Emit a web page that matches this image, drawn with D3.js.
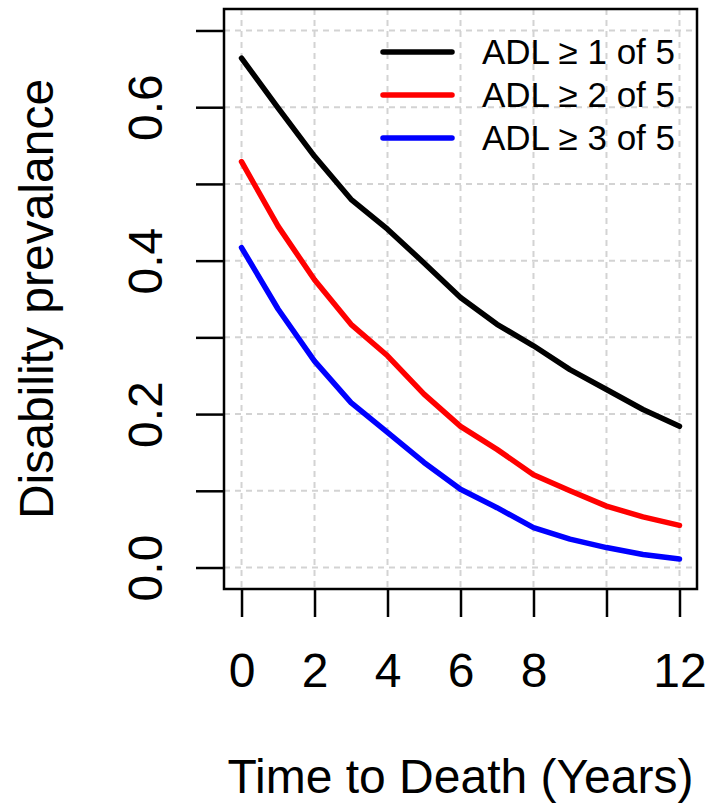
<!DOCTYPE html>
<html>
<head>
<meta charset="utf-8">
<script src="https://cdn.jsdelivr.net/npm/d3@7"></script>
<style>
  body { margin: 0; background: #fff; }
  text { font-family: "Liberation Sans", Arial, sans-serif; fill: #000; }
</style>
</head>
<body>
<div id="chart"></div>
<script>
// data
var years = [0, 1, 2, 3, 4, 5, 6, 7, 8, 9, 10, 11, 12];
var adl1 = [0.664, 0.599, 0.536, 0.480, 0.441, 0.397, 0.352, 0.317, 0.289, 0.258, 0.232, 0.206, 0.184];
var adl2 = [0.529, 0.445, 0.375, 0.317, 0.276, 0.226, 0.184, 0.154, 0.121, 0.100, 0.080, 0.066, 0.055];
var adl3 = [0.417, 0.337, 0.269, 0.215, 0.176, 0.137, 0.102, 0.078, 0.052, 0.037, 0.026, 0.017, 0.011];
var seriesNames = ["ADL \u2265 1 of 5", "ADL \u2265 2 of 5", "ADL \u2265 3 of 5"];
var seriesColors = ["#000000", "#ff0000", "#0000ff"];
var xTicks = [0, 2, 4, 6, 8, 10, 12];
var xTickLabels = ["0", "2", "4", "6", "8", "", "12"];
var yTicks = [0, 0.1, 0.2, 0.3, 0.4, 0.5, 0.6, 0.7];
var yTickLabels = ["0.0", "", "0.2", "", "0.4", "", "0.6", ""];

var svgWidth = 707;
var svgHeight = 805;

var margin = { top: 9, right: 10, bottom: 216, left: 224 };
var width = svgWidth - margin.left - margin.right;
var height = svgHeight - margin.top - margin.bottom;

var svg = d3.select("#chart")
  .append("svg")
  .attr("width", svgWidth)
  .attr("height", svgHeight);

var chartGroup = svg.append("g")
  .attr("transform", `translate(${margin.left}, ${margin.top})`);

// R style 4% padding on both axes
var xPad = 12 * 0.04;
var yPad = 0.7 * 0.04;
var x = d3.scaleLinear().domain([0 - xPad, 12 + xPad]).range([0, width]);
var y = d3.scaleLinear().domain([0 - yPad, 0.7 + yPad]).range([height, 0]);

// grid
chartGroup.append("g")
  .selectAll("line.vgrid")
  .data(xTicks)
  .enter()
  .append("line")
  .attr("x1", d => x(d)).attr("x2", d => x(d))
  .attr("y1", 0).attr("y2", height)
  .attr("stroke", "#d3d3d3").attr("stroke-width", 2)
  .attr("stroke-dasharray", "6,5");

chartGroup.append("g")
  .selectAll("line.hgrid")
  .data(yTicks)
  .enter()
  .append("line")
  .attr("x1", 0).attr("x2", width)
  .attr("y1", d => y(d)).attr("y2", d => y(d))
  .attr("stroke", "#d3d3d3").attr("stroke-width", 2)
  .attr("stroke-dasharray", "6,5");

// axes
var bottomAxis = d3.axisBottom(x)
  .tickValues(xTicks)
  .tickSize(28)
  .tickFormat((d, i) => xTickLabels[i]);

var leftAxis = d3.axisLeft(y)
  .tickValues(yTicks)
  .tickSize(28)
  .tickFormat((d, i) => yTickLabels[i]);

var xAxisG = chartGroup.append("g")
  .attr("transform", `translate(0, ${height})`)
  .call(bottomAxis);

xAxisG.select(".domain").remove();
xAxisG.selectAll(".tick line").attr("stroke", "#000").attr("stroke-width", 2.5);
xAxisG.selectAll(".tick text")
  .attr("y", 98)
  .attr("dy", 0)
  .style("font-size", "48px")
  .style("font-family", "Liberation Sans, Arial, sans-serif");

var yAxisG = chartGroup.append("g")
  .call(leftAxis);

yAxisG.select(".domain").remove();
yAxisG.selectAll(".tick line").attr("stroke", "#000").attr("stroke-width", 2.5);
yAxisG.selectAll(".tick text")
  .attr("transform", "rotate(-90)")
  .attr("x", 0)
  .attr("y", -62)
  .attr("dy", 0)
  .attr("text-anchor", "middle")
  .style("font-size", "48px")
  .style("font-family", "Liberation Sans, Arial, sans-serif");

// lines
var lineGen = d3.line()
  .x((d, i) => x(years[i]))
  .y(d => y(d));

var allSeries = [adl1, adl2, adl3];

chartGroup.selectAll("path.series")
  .data(allSeries)
  .enter()
  .append("path")
  .attr("class", "series")
  .attr("d", d => lineGen(d))
  .attr("fill", "none")
  .attr("stroke", (d, i) => seriesColors[i])
  .attr("stroke-width", 5.5)
  .attr("stroke-linecap", "round")
  .attr("stroke-linejoin", "round");

// box
chartGroup.append("rect")
  .attr("x", 0).attr("y", 0)
  .attr("width", width).attr("height", height)
  .attr("fill", "none")
  .attr("stroke", "#000")
  .attr("stroke-width", 2.5);

// legend
var legend = chartGroup.append("g")
  .attr("transform", "translate(159, 43)");

seriesNames.forEach(function(name, i) {
  var row = legend.append("g").attr("transform", `translate(0, ${i * 43})`);
  row.append("line")
    .attr("x1", 0).attr("x2", 69)
    .attr("y1", 0).attr("y2", 0)
    .attr("stroke", seriesColors[i])
    .attr("stroke-width", 5.5)
    .attr("stroke-linecap", "round");
  row.append("text")
    .attr("x", 99)
    .attr("y", 12)
    .style("font-size", "35px")
    .text(name);
});

// axis labels
svg.append("text")
  .attr("transform", `translate(53, ${margin.top + height / 2}) rotate(-90)`)
  .attr("text-anchor", "middle")
  .style("font-size", "48px")
  .text("Disability prevalance");

svg.append("text")
  .attr("x", margin.left + width / 2)
  .attr("y", 793)
  .attr("text-anchor", "middle")
  .style("font-size", "48px")
  .text("Time to Death (Years)");
</script>
</body>
</html>
